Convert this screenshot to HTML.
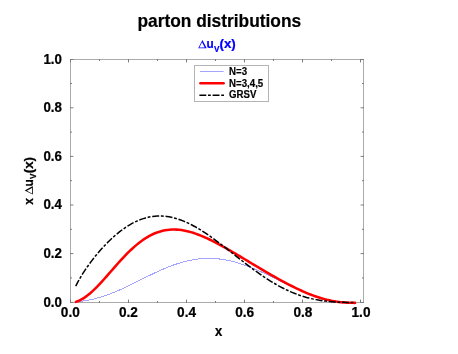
<!DOCTYPE html>
<html><head><meta charset="utf-8"><title>parton distributions</title>
<style>
html,body{margin:0;padding:0;background:#fff;}
body{width:458px;height:354px;overflow:hidden;font-family:"Liberation Sans",sans-serif;}
svg{display:block;will-change:transform;}
text{font-family:"Liberation Sans",sans-serif;font-weight:bold;fill:#000;}
.bl text,.bl path{fill:#0000ff;}
</style></head><body>
<svg width="458" height="354" viewBox="0 0 458 354">
<rect width="458" height="354" fill="#fff"/>
<text transform="translate(219.3,26.6) scale(0.948,1)" text-anchor="middle" font-size="18.3" stroke="#000" stroke-width="0.2">parton distributions</text>
<g class="bl" stroke="#0000ff" transform="translate(198.2,48.2)"><path transform="translate(0.00,0)" d="M0 0L4.2 -8.1L8.5 0ZM1.16 -0.8L6.58 -0.8L3.84 -5.96Z" fill-rule="evenodd" stroke="none"/><g transform="scale(1,1.08)" stroke-width="0.22"><text x="8.20" y="0" font-size="11.8">u</text><text x="15.70" y="3.2" font-size="8.2">V</text><text transform="translate(21.30,0) scale(1.16,1.02)" font-size="11.5">(x)</text></g></g>
<g stroke="#000" stroke-width="0.25"><text transform="translate(70.30,317.2) scale(0.94,1)" text-anchor="middle" font-size="14.5">0.0</text><text transform="translate(128.44,317.2) scale(0.94,1)" text-anchor="middle" font-size="14.5">0.2</text><text transform="translate(186.58,317.2) scale(0.94,1)" text-anchor="middle" font-size="14.5">0.4</text><text transform="translate(244.72,317.2) scale(0.94,1)" text-anchor="middle" font-size="14.5">0.6</text><text transform="translate(302.86,317.2) scale(0.94,1)" text-anchor="middle" font-size="14.5">0.8</text><text transform="translate(361.00,317.2) scale(0.94,1)" text-anchor="middle" font-size="14.5">1.0</text><text transform="translate(61.9,306.65) scale(0.93,1)" text-anchor="end" font-size="14.3">0.0</text><text transform="translate(61.9,258.05) scale(0.93,1)" text-anchor="end" font-size="14.3">0.2</text><text transform="translate(61.9,209.45) scale(0.93,1)" text-anchor="end" font-size="14.3">0.4</text><text transform="translate(61.9,160.85) scale(0.93,1)" text-anchor="end" font-size="14.3">0.6</text><text transform="translate(61.9,112.25) scale(0.93,1)" text-anchor="end" font-size="14.3">0.8</text><text transform="translate(61.9,63.65) scale(0.93,1)" text-anchor="end" font-size="14.3">1.0</text></g>
<text transform="translate(218.7,336.1) scale(0.91,1)" text-anchor="middle" font-size="14.3" stroke="#000" stroke-width="0.25">x</text>
<g transform="translate(32.8,204.5) rotate(-90)" stroke="#000"><text transform="scale(1,1.08)" x="-0.2" y="0" font-size="12" stroke-width="0.22">x</text><path transform="translate(9.90,0)" d="M0 0L4.2 -8.1L8.5 0ZM1.16 -0.8L6.58 -0.8L3.84 -5.96Z" fill-rule="evenodd" stroke="none"/><g transform="scale(1,1.08)" stroke-width="0.22"><text x="18.10" y="0" font-size="11.8">u</text><text x="25.60" y="3.2" font-size="8.2">V</text><text transform="translate(31.20,0) scale(1.16,1.02)" font-size="11.5">(x)</text></g></g>
<rect x="70.5" y="59.5" width="293" height="243" fill="none" stroke="#ababab" stroke-width="1"/>
<path d="M70.50 303v-3.4 M70.50 59v3.4 M70 302.50h3.4 M364 302.50h-3.4 M99.50 303v-2.0 M99.50 59v2.0 M70 277.90h2.0 M364 277.90h-2.0 M128.50 303v-3.4 M128.50 59v3.4 M70 253.60h3.4 M364 253.60h-3.4 M157.50 303v-2.0 M157.50 59v2.0 M70 229.30h2.0 M364 229.30h-2.0 M186.50 303v-3.4 M186.50 59v3.4 M70 205.00h3.4 M364 205.00h-3.4 M215.50 303v-2.0 M215.50 59v2.0 M70 180.70h2.0 M364 180.70h-2.0 M244.50 303v-3.4 M244.50 59v3.4 M70 156.40h3.4 M364 156.40h-3.4 M273.50 303v-2.0 M273.50 59v2.0 M70 132.10h2.0 M364 132.10h-2.0 M302.50 303v-3.4 M302.50 59v3.4 M70 107.80h3.4 M364 107.80h-3.4 M331.50 303v-2.0 M331.50 59v2.0 M70 83.50h2.0 M364 83.50h-2.0 M360.50 303v-3.4 M360.50 59v3.4 M70 59.50h3.4 M364 59.50h-3.4" stroke="#7c7c7c" stroke-width="1" fill="none"/>
<path d="M75.72 302.09 L78.06 301.79 L80.41 301.47 L82.75 301.12 L85.10 300.74 L87.44 300.32 L89.79 299.86 L92.13 299.35 L94.47 298.79 L96.82 298.18 L99.16 297.53 L101.51 296.83 L103.85 296.08 L106.20 295.29 L108.54 294.45 L110.89 293.57 L113.23 292.64 L115.57 291.69 L117.92 290.69 L120.26 289.66 L122.61 288.61 L124.95 287.52 L127.30 286.42 L129.64 285.29 L131.98 284.15 L134.33 282.99 L136.67 281.83 L139.02 280.66 L141.36 279.49 L143.71 278.32 L146.05 277.15 L148.40 276.00 L150.74 274.85 L153.08 273.72 L155.43 272.62 L157.77 271.53 L160.12 270.47 L162.46 269.43 L164.81 268.43 L167.15 267.46 L169.49 266.53 L171.84 265.64 L174.18 264.79 L176.53 263.98 L178.87 263.23 L181.22 262.52 L183.56 261.86 L185.91 261.25 L188.25 260.70 L190.59 260.21 L192.94 259.77 L195.28 259.39 L197.63 259.07 L199.97 258.80 L202.32 258.60 L204.66 258.46 L207.00 258.38 L209.35 258.37 L211.69 258.41 L214.04 258.51 L216.38 258.68 L218.73 258.91 L221.07 259.19 L223.42 259.53 L225.76 259.94 L228.10 260.39 L230.45 260.91 L232.79 261.47 L235.14 262.09 L237.48 262.76 L239.83 263.48 L242.17 264.25 L244.51 265.05 L246.86 265.91 L249.20 266.80 L251.55 267.72 L253.89 268.69 L256.24 269.68 L258.58 270.70 L260.93 271.76 L263.27 272.83 L265.61 273.92 L267.96 275.04 L270.30 276.16 L272.65 277.30 L274.99 278.44 L277.34 279.60 L279.68 280.75 L282.02 281.90 L284.37 283.04 L286.71 284.18 L289.06 285.31 L291.40 286.42 L293.75 287.52 L296.09 288.59 L298.44 289.64 L300.78 290.67 L303.12 291.67 L305.47 292.63 L307.81 293.56 L310.16 294.46 L312.50 295.31 L314.85 296.13 L317.19 296.90 L319.53 297.62 L321.88 298.30 L324.22 298.93 L326.57 299.52 L328.91 300.05 L331.26 300.54 L333.60 300.97 L335.95 301.36 L338.29 301.69 L340.63 301.98 L342.98 302.22 L345.32 302.42 L347.67 302.57 L350.01 302.69 L352.36 302.77 L354.70 302.82" fill="none" stroke="#a4a4ff" stroke-width="1" shape-rendering="crispEdges"/>
<path d="M75.86 301.92 L78.21 301.06 L80.56 299.96 L82.90 298.63 L85.25 297.10 L87.59 295.36 L89.94 293.45 L92.28 291.38 L94.63 289.16 L96.98 286.82 L99.32 284.38 L101.67 281.85 L104.01 279.25 L106.36 276.60 L108.70 273.93 L111.05 271.23 L113.39 268.55 L115.74 265.87 L118.09 263.23 L120.43 260.63 L122.78 258.09 L125.12 255.62 L127.47 253.23 L129.81 250.92 L132.16 248.71 L134.50 246.60 L136.85 244.61 L139.20 242.72 L141.54 240.96 L143.89 239.32 L146.23 237.80 L148.58 236.42 L150.92 235.16 L153.27 234.03 L155.62 233.04 L157.96 232.17 L160.31 231.43 L162.65 230.81 L165.00 230.32 L167.34 229.95 L169.69 229.70 L172.03 229.57 L174.38 229.54 L176.73 229.62 L179.07 229.81 L181.42 230.09 L183.76 230.47 L186.11 230.93 L188.45 231.48 L190.80 232.12 L193.14 232.82 L195.49 233.60 L197.84 234.45 L200.18 235.36 L202.53 236.32 L204.87 237.34 L207.22 238.40 L209.56 239.51 L211.91 240.67 L214.25 241.85 L216.60 243.08 L218.95 244.33 L221.29 245.61 L223.64 246.91 L225.98 248.23 L228.33 249.57 L230.67 250.93 L233.02 252.29 L235.37 253.67 L237.71 255.06 L240.06 256.46 L242.40 257.86 L244.75 259.26 L247.09 260.66 L249.44 262.07 L251.78 263.47 L254.13 264.87 L256.48 266.27 L258.82 267.67 L261.17 269.05 L263.51 270.43 L265.86 271.81 L268.20 273.17 L270.55 274.52 L272.89 275.86 L275.24 277.19 L277.59 278.50 L279.93 279.80 L282.28 281.08 L284.62 282.35 L286.97 283.59 L289.31 284.81 L291.66 286.01 L294.00 287.18 L296.35 288.32 L298.70 289.44 L301.04 290.52 L303.39 291.57 L305.73 292.58 L308.08 293.56 L310.42 294.49 L312.77 295.38 L315.12 296.23 L317.46 297.03 L319.81 297.78 L322.15 298.48 L324.50 299.13 L326.84 299.73 L329.19 300.27 L331.53 300.76 L333.88 301.19 L336.23 301.57 L338.57 301.89 L340.92 302.17 L343.26 302.39 L345.61 302.56 L347.95 302.70 L350.30 302.79 L352.64 302.85 L354.99 302.88" fill="none" stroke="#ff0000" stroke-width="2.55" stroke-linecap="round"/>
<path d="M75.72 286.19 L78.05 281.63 L80.38 277.51 L82.72 273.69 L85.05 270.11 L87.38 266.70 L89.71 263.46 L92.05 260.35 L94.38 257.37 L96.71 254.51 L99.04 251.75 L101.37 249.09 L103.71 246.54 L106.04 244.08 L108.37 241.73 L110.70 239.47 L113.03 237.31 L115.37 235.25 L117.70 233.29 L120.03 231.44 L122.36 229.68 L124.70 228.03 L127.03 226.48 L129.36 225.03 L131.69 223.69 L134.02 222.46 L136.36 221.34 L138.69 220.32 L141.02 219.41 L143.35 218.61 L145.69 217.92 L148.02 217.33 L150.35 216.86 L152.68 216.49 L155.01 216.22 L157.35 216.07 L159.68 216.01 L162.01 216.07 L164.34 216.22 L166.68 216.47 L169.01 216.82 L171.34 217.27 L173.67 217.81 L176.00 218.44 L178.34 219.16 L180.67 219.97 L183.00 220.86 L185.33 221.84 L187.66 222.89 L190.00 224.01 L192.33 225.21 L194.66 226.47 L196.99 227.80 L199.33 229.19 L201.66 230.63 L203.99 232.13 L206.32 233.68 L208.65 235.27 L210.99 236.91 L213.32 238.58 L215.65 240.29 L217.98 242.03 L220.32 243.79 L222.65 245.58 L224.98 247.38 L227.31 249.20 L229.64 251.03 L231.98 252.86 L234.31 254.70 L236.64 256.54 L238.97 258.37 L241.31 260.20 L243.64 262.01 L245.97 263.81 L248.30 265.59 L250.63 267.35 L252.97 269.08 L255.30 270.79 L257.63 272.47 L259.96 274.11 L262.29 275.72 L264.63 277.30 L266.96 278.83 L269.29 280.32 L271.62 281.77 L273.96 283.17 L276.29 284.52 L278.62 285.83 L280.95 287.08 L283.28 288.29 L285.62 289.44 L287.95 290.54 L290.28 291.59 L292.61 292.58 L294.95 293.52 L297.28 294.40 L299.61 295.24 L301.94 296.02 L304.27 296.74 L306.61 297.42 L308.94 298.04 L311.27 298.62 L313.60 299.14 L315.94 299.62 L318.27 300.05 L320.60 300.44 L322.93 300.79 L325.26 301.09 L327.60 301.36 L329.93 301.59 L332.26 301.79 L334.59 301.96 L336.92 302.10 L339.26 302.21 L341.59 302.30 L343.92 302.37 L346.25 302.42 L348.59 302.45 L350.92 302.48 L353.25 302.49" fill="none" stroke="#000" stroke-width="1.5" stroke-dasharray="7 1.7 2.85 1.8" stroke-dashoffset="0"/>
<rect x="194.5" y="65.5" width="74" height="36" fill="#fff" stroke="#b4b4b4" stroke-width="1"/>
<path d="M200 71.5H223.6" stroke="#a4a4ff" stroke-width="1"/>
<path d="M200.5 83.3H223.6" stroke="#ff0000" stroke-width="2.6" stroke-linecap="round"/>
<path d="M199.4 95.2H224.1" stroke="#000" stroke-width="1.6" stroke-dasharray="6.9 1.7 2.8 1.8"/>
<g font-size="10" stroke="#000" stroke-width="0.18"><text transform="translate(229.1,74.5) scale(0.968,1)">N=3</text><text transform="translate(229.1,86.5) scale(0.968,1)">N=3,4,5</text><text transform="translate(229.1,98.4) scale(0.968,1)">GRSV</text></g>
</svg>
</body></html>
